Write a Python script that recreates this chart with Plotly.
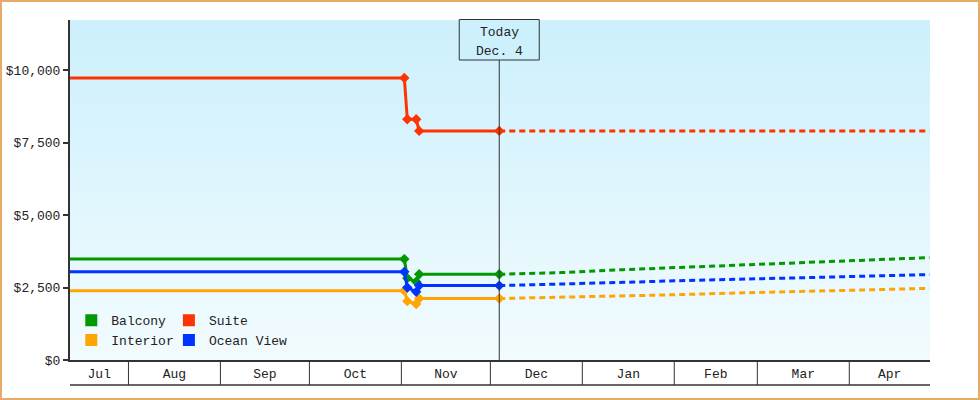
import plotly.graph_objects as go
import pandas as pd

# ---------------- data ----------------
categories = ["Balcony", "Suite", "Interior", "Ocean View"]

hist_dates = ["2014-07-12", "2014-11-02", "2014-11-03", "2014-11-06", "2014-11-07", "2014-12-04"]
balcony_hist = [3480, 3480, 2820, 2700, 2955, 2955]
suite_hist = [9725, 9725, 8300, 8300, 7900, 7900]
interior_hist = [2390, 2390, 2030, 1930, 2120, 2120]
ocean_hist = [3040, 3040, 2500, 2350, 2566, 2566]

proj_dates = ["2014-12-04", "2014-12-25", "2015-01-15", "2015-02-01", "2015-02-20",
              "2015-03-10", "2015-03-27", "2015-04-13", "2015-04-28"]
balcony_proj = [2955, 3014, 3116, 3187, 3274, 3340, 3407, 3478, 3531]
suite_proj = [7900, 7900, 7900, 7900, 7900, 7900, 7900, 7900, 7900]
interior_proj = [2120, 2162, 2215, 2250, 2304, 2354, 2390, 2434, 2472]
ocean_proj = [2566, 2610, 2677, 2730, 2777, 2823, 2871, 2917, 2945]

today_date = "2014-12-04"
today_lines = ["Today", "Dec. 4"]
month_labels = ["Jul", "Aug", "Sep", "Oct", "Nov", "Dec", "Jan", "Feb", "Mar", "Apr"]
y_ticks = [0, 2500, 5000, 7500, 10000]
x_range = ["2014-07-12 07:00", "2015-04-28 05:00"]
y_range = [0, 11725]

# ---------------- styles ----------------
colors = {"Balcony": "#009900", "Suite": "#ff3300", "Interior": "#ffa500", "Ocean View": "#0033ff"}
FONT = "Liberation Mono, DejaVu Sans Mono, monospace"
DARK = "#333333"
TXT = "#222222"

series = {
    "Balcony": (balcony_hist, balcony_proj),
    "Suite": (suite_hist, suite_proj),
    "Interior": (interior_hist, interior_proj),
    "Ocean View": (ocean_hist, ocean_proj),
}

fig = go.Figure()

for name in categories:
    hist, proj = series[name]
    c = colors[name]
    fig.add_trace(go.Scatter(
        x=proj_dates, y=proj, mode="lines", showlegend=False, hoverinfo="skip",
        line=dict(color=c, width=3, dash="6px,4px"), cliponaxis=False))
    fig.add_trace(go.Scatter(
        x=hist_dates, y=hist, mode="lines+markers", name=name, showlegend=False,
        line=dict(color=c, width=3), marker=dict(symbol="diamond", size=8, color=c),
        cliponaxis=False))

# legend-only entries (square swatches), two columns
legend_cols = {"Balcony": "legend", "Interior": "legend", "Suite": "legend2", "Ocean View": "legend2"}
for name in ["Balcony", "Interior", "Suite", "Ocean View"]:
    fig.add_trace(go.Scatter(
        x=[None], y=[None], mode="markers", name=name, legend=legend_cols[name],
        marker=dict(symbol="square", size=12, color=colors[name])))

# month tick positions: middle of visible part of each month
rs, re_ = pd.Timestamp(x_range[0]), pd.Timestamp(x_range[1])
month_starts = pd.date_range(rs.normalize().replace(day=1), re_, freq="MS")
tickvals = []
for ms in month_starts:
    me = ms + pd.offsets.MonthBegin(1)
    a, b = max(ms, rs), min(me, re_)
    tickvals.append(a + (b - a) / 2)

shapes = []
# background gradient bands
top = (204, 240, 252)
bot = (242, 251, 254)
n = 68
for i in range(n):
    t = i / (n - 1)
    col = tuple(round(top[k] + (bot[k] - top[k]) * t) for k in range(3))
    shapes.append(dict(type="rect", xref="paper", yref="paper", x0=0, x1=1,
                       y0=max(0, 1 - (i + 1.3) / n), y1=1 - i / n, layer="below",
                       line=dict(width=0), fillcolor="rgb(%d,%d,%d)" % col))
# month separators below axis
box_h = 25 / 340
for ms in month_starts[1:]:
    shapes.append(dict(type="line", xref="x", yref="paper", x0=ms, x1=ms, y0=0, y1=-box_h,
                       line=dict(color=DARK, width=1)))
shapes.append(dict(type="line", xref="paper", yref="paper", x0=0, x1=1, y0=-box_h, y1=-box_h,
                   line=dict(color=DARK, width=1.5)))
# today line
shapes.append(dict(type="line", xref="x", yref="paper", x0=today_date, x1=today_date,
                   y0=0, y1=300 / 340, line=dict(color=DARK, width=1)))
# today box
shapes.append(dict(type="rect", xref="x", xsizemode="pixel", xanchor=today_date, x0=-40, x1=40,
                   yref="paper", ysizemode="pixel", yanchor=1, y0=0.5, y1=-40,
                   line=dict(color=DARK, width=1), fillcolor="#ccf0fc"))
# outer border
shapes.append(dict(type="rect", xref="paper", yref="paper",
                   x0=-69 / 860, x1=909 / 860, y0=-39 / 340, y1=359 / 340,
                   line=dict(color="#e8aa69", width=2), fillcolor="rgba(0,0,0,0)"))

annotations = []
for txt, shift in zip(today_lines, [-12, -31]):
    annotations.append(dict(x=today_date, xref="x", y=1, yref="paper", yanchor="middle",
                            yshift=shift, text=txt, showarrow=False,
                            font=dict(family=FONT, size=13, color=TXT)))

fig.update_layout(
    width=980, height=400,
    margin=dict(l=70, r=50, t=20, b=40),
    paper_bgcolor="white", plot_bgcolor="rgba(0,0,0,0)",
    font=dict(family=FONT, size=13, color=TXT),
    shapes=shapes,
    annotations=annotations,
    xaxis=dict(type="date", range=x_range, tickvals=tickvals, ticktext=month_labels,
               showgrid=False, zeroline=False, showline=True, linecolor=DARK, linewidth=2,
               ticks="", automargin=False, tickfont=dict(family=FONT, size=13, color=TXT)),
    yaxis=dict(range=y_range, tickvals=y_ticks, tickformat="$,d",
               showgrid=False, zeroline=False, showline=True, linecolor=DARK, linewidth=2,
               ticks="outside", ticklen=5, tickwidth=2, tickcolor=DARK, automargin=False,
               tickfont=dict(family=FONT, size=13, color=TXT)),
    legend=dict(x=0.0015, y=0.161, xanchor="left", yanchor="top", bgcolor="rgba(0,0,0,0)",
                font=dict(family=FONT, size=13, color=TXT), itemwidth=30, tracegroupgap=0),
    legend2=dict(x=0.115, y=0.161, xanchor="left", yanchor="top", bgcolor="rgba(0,0,0,0)",
                 font=dict(family=FONT, size=13, color=TXT), itemwidth=30, tracegroupgap=0),
    hovermode="closest",
)

fig.write_html("out.html", config={"displayModeBar": False},
               post_script="document.body.style.margin='0';")
